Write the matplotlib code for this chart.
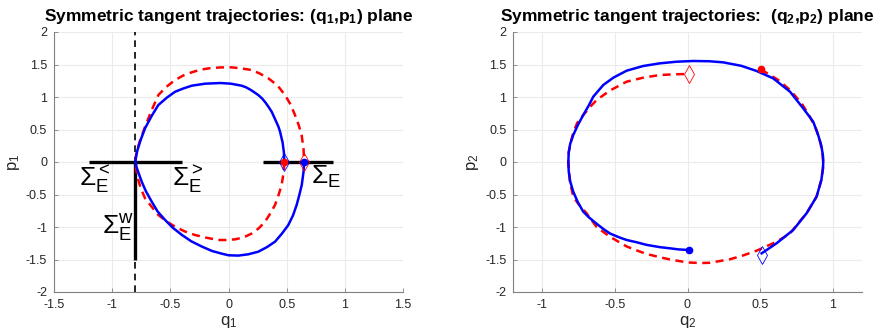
import matplotlib
matplotlib.use("Agg")
import matplotlib.pyplot as plt

plt.rcParams['font.family'] = ['Liberation Sans', 'DejaVu Sans']
plt.rcParams['mathtext.fontset'] = 'custom'
plt.rcParams['mathtext.rm'] = 'Liberation Sans'
plt.rcParams['mathtext.it'] = 'Liberation Sans:italic'
plt.rcParams['mathtext.bf'] = 'Liberation Sans:bold'
plt.rcParams['axes.unicode_minus'] = False

# ---------------- data: (q1,p1) plane ----------------
q1_blue = [0.65, 0.645, 0.63, 0.61, 0.586, 0.555, 0.514, 0.46, 0.40, 0.33, 0.256, 0.17, 0.084, 0.0,
           -0.058, -0.14, -0.23, -0.32, -0.402, -0.48, -0.546, -0.61, -0.66, -0.71, -0.746, -0.775,
           -0.792, -0.8, -0.795, -0.783, -0.755, -0.717, -0.66, -0.603, -0.53, -0.46, -0.39, -0.316,
           -0.2, -0.07, 0.02, 0.113, 0.15, 0.19, 0.22, 0.256, 0.29, 0.32, 0.345, 0.371, 0.39, 0.41,
           0.43, 0.443, 0.465, 0.476, 0.48]
p1_blue = [0.0, -0.15, -0.35, -0.5, -0.66, -0.82, -0.97, -1.1, -1.226, -1.31, -1.38, -1.42, -1.44, -1.435,
           -1.41, -1.37, -1.30, -1.22, -1.12, -1.01, -0.89, -0.76, -0.61, -0.45, -0.303, -0.16,
           -0.07, 0.0, 0.08, 0.18, 0.34, 0.52, 0.71, 0.877, 0.99, 1.08, 1.13, 1.174,
           1.205, 1.215, 1.205, 1.174, 1.15, 1.11, 1.075, 1.03, 0.975, 0.91, 0.845, 0.774, 0.70, 0.62,
           0.54, 0.467, 0.3, 0.15, 0.0]

q1_red = [0.48, 0.475, 0.457, 0.43, 0.40, 0.36, 0.314, 0.26, 0.2, 0.13, 0.056, -0.02, -0.088, -0.19,
          -0.288, -0.38, -0.46, -0.535, -0.603, -0.66, -0.717, -0.755, -0.78, -0.795, -0.8, -0.795,
          -0.78, -0.755, -0.717, -0.66, -0.603, -0.535, -0.46, -0.39, -0.316, -0.24, -0.173, -0.07,
          0.027, 0.11, 0.2, 0.27, 0.342, 0.42, 0.486, 0.535, 0.572, 0.605, 0.629, 0.645, 0.65]
p1_red = [0.0, -0.15, -0.35, -0.51, -0.66, -0.79, -0.918, -1.02, -1.10, -1.16, -1.19, -1.2, -1.2, -1.165,
          -1.123, -1.065, -0.995, -0.91, -0.815, -0.69, -0.56, -0.4, -0.25, -0.1, 0.0, 0.1,
          0.22, 0.36, 0.543, 0.80, 1.03, 1.155, 1.26, 1.33, 1.38, 1.42, 1.44, 1.455,
          1.456, 1.44, 1.415, 1.36, 1.288, 1.18, 1.03, 0.88, 0.72, 0.56, 0.41, 0.2, 0.0]

# ---------------- data: (q2,p2) plane ----------------
q2_blue = [0.012, -0.06, -0.121, -0.19, -0.282, -0.35, -0.419, -0.47, -0.534, -0.58, -0.626, -0.68,
           -0.718, -0.755, -0.787, -0.808, -0.818, -0.821, -0.818, -0.808, -0.787, -0.755, -0.718,
           -0.68, -0.649, -0.58, -0.511, -0.419, -0.305, -0.19, -0.075, 0.04, 0.15, 0.246, 0.37,
           0.476, 0.59, 0.706, 0.797, 0.866, 0.9, 0.922, 0.933, 0.935, 0.933, 0.922, 0.889, 0.82,
           0.728, 0.614, 0.511]
p2_blue = [-1.354, -1.345, -1.328, -1.31, -1.275, -1.235, -1.2, -1.16, -1.10, -1.03, -0.95, -0.85,
           -0.764, -0.62, -0.457, -0.3, -0.15, 0.0, 0.15, 0.28, 0.415, 0.57, 0.723,
           0.87, 1.005, 1.185, 1.297, 1.405, 1.477, 1.518, 1.543, 1.554, 1.55, 1.533, 1.48,
           1.4, 1.287, 1.082, 0.826, 0.62, 0.415, 0.25, 0.1, 0.0, -0.1, -0.277, -0.534, -0.79,
           -1.046, -1.25, -1.405]

q2_red = [0.506, 0.56, 0.625, 0.706, 0.786, 0.843, 0.889, 0.915, 0.93, 0.935, 0.933, 0.922, 0.889,
          0.82, 0.76, 0.706, 0.614, 0.476, 0.38, 0.291, 0.155, 0.09, 0.0, -0.121, -0.2, -0.282,
          -0.35, -0.419, -0.534, -0.626, -0.695, -0.75, -0.787, -0.81, -0.821, -0.818, -0.81,
          -0.787, -0.76, -0.718, -0.67, -0.626, -0.534, -0.419, -0.3, -0.19, -0.08, 0.012]
p2_red = [1.426, 1.35, 1.262, 1.108, 0.903, 0.697, 0.492, 0.3, 0.12, 0.0, -0.1, -0.277, -0.534,
          -0.79, -0.95, -1.1, -1.226, -1.365, -1.44, -1.497, -1.55, -1.555, -1.545, -1.50, -1.46, -1.415,
          -1.36, -1.30, -1.15, -1.0, -0.79, -0.65, -0.534, -0.3, 0.0, 0.15, 0.25,
          0.45, 0.6, 0.723, 0.85, 0.954, 1.10, 1.236, 1.3, 1.338, 1.35, 1.354]

# section segments in (q1,p1) plane
sigma_lt_q = [-1.2, -0.8]
sigma_gt_q = [-0.8, -0.4]
sigma_e_q = [0.3, 0.9]
sigma_w_p = [0.0, -1.5]
q_wall = -0.8

BLUE = '#0000ff'
RED = '#ff0000'
GRID = '#ebebeb'
AXC = '#262626'

fig = plt.figure(figsize=(8.75, 3.35), dpi=100)
ax1 = fig.add_axes([54/875, 1-292/335, 349/875, 260/335])
ax2 = fig.add_axes([513.3/875, 1-292/335, 348.4/875, 260/335])


def style(ax):
    ax.grid(True, color=GRID, lw=0.8)
    ax.set_axisbelow(True)
    for s in ['top', 'right']:
        ax.spines[s].set_visible(False)
    for s in ['left', 'bottom']:
        ax.spines[s].set_color('#808080')
        ax.spines[s].set_linewidth(0.8)
    ax.tick_params(direction='in', length=3, width=0.6, colors='#808080',
                   labelcolor=AXC, labelsize=9)
    ax.tick_params(axis='x', pad=5)
    ax.tick_params(axis='y', pad=5)
    ax.set_ylim(-2, 2)
    ax.set_yticks([-2, -1.5, -1, -0.5, 0, 0.5, 1, 1.5, 2])
    ax.set_yticklabels(['-2', '-1.5', '-1', '-0.5', '0', '0.5', '1', '1.5', '2'])


lw = 1.8
dash = (3.2, 2.2)

# ---- left panel ----
style(ax1)
ax1.set_xlim(-1.5, 1.5)
ax1.set_xticks([-1.5, -1, -0.5, 0, 0.5, 1, 1.5])
ax1.set_xticklabels(['-1.5', '-1', '-0.5', '0', '0.5', '1', '1.5'])
ax1.plot([q_wall, q_wall], [-2, 2], color='k', lw=1.2, dashes=(4, 3), zorder=2)
ax1.plot(sigma_lt_q, [0, 0], color='k', lw=2.4, solid_capstyle='butt', zorder=3)
ax1.plot(sigma_gt_q, [0, 0], color='k', lw=2.4, solid_capstyle='butt', zorder=3)
ax1.plot(sigma_e_q, [0, 0], color='k', lw=2.4, solid_capstyle='butt', zorder=3)
ax1.plot([q_wall, q_wall], sigma_w_p, color='k', lw=2.4, solid_capstyle='butt', zorder=3)
ax1.plot(q1_red, p1_red, color=RED, lw=lw, dashes=dash, zorder=4)
ax1.plot(q1_blue, p1_blue, color=BLUE, lw=lw, zorder=5)
ms_d = 9
ax1.plot(q1_blue[-1], p1_blue[-1], marker='d', ms=ms_d, mfc='none', mec=BLUE, mew=0.6, zorder=6)
ax1.plot(q1_red[-1], p1_red[-1], marker='d', ms=ms_d, mfc='none', mec=RED, mew=0.6, zorder=6)
ax1.plot(q1_blue[0], p1_blue[0], marker='o', ms=4.5, color=BLUE, zorder=7)
ax1.plot(q1_red[0], p1_red[0], marker='o', ms=4.5, color=RED, zorder=7)

fs = 19
ax1.text(-1.285, -0.354, r'$\Sigma_{\rm E}^{<}$', fontsize=fs, ha='left', va='baseline')
ax1.text(-0.488, -0.354, r'$\Sigma_{\rm E}^{>}$', fontsize=fs, ha='left', va='baseline')
ax1.text(0.707, -0.33, r'$\Sigma_{\rm E}$', fontsize=fs, ha='left', va='baseline')
ax1.text(-1.09, -1.097, r'$\Sigma_{\rm E}^{\rm w}$', fontsize=fs, ha='left', va='baseline')

ax1.set_xlabel(r'$\mathrm{q_1}$', fontsize=12, color=AXC, labelpad=2)
ax1.set_ylabel(r'$\mathrm{p_1}$', fontsize=12, color=AXC, labelpad=3)
ax1.set_title(r'Symmetric tangent trajectories: $\mathbf{(q_1{,}p_1)}$ plane',
              fontsize=12.5, fontweight='bold', pad=8)

# ---- right panel ----
style(ax2)
ax2.set_xlim(-1.2, 1.2)
ax2.set_xticks([-1, -0.5, 0, 0.5, 1])
ax2.set_xticklabels(['-1', '-0.5', '0', '0.5', '1'])
ax2.plot(q2_red, p2_red, color=RED, lw=lw, dashes=dash, zorder=4)
ax2.plot(q2_blue, p2_blue, color=BLUE, lw=lw, zorder=5)
ax2.plot(q2_blue[-1], p2_blue[-1] - 0.02, marker='d', ms=ms_d, mfc='none', mec=BLUE, mew=0.6, zorder=6)
ax2.plot(q2_red[-1], p2_red[-1], marker='d', ms=ms_d, mfc='none', mec=RED, mew=0.6, zorder=6)
ax2.plot(q2_blue[0], p2_blue[0], marker='o', ms=4.5, color=BLUE, zorder=7)
ax2.plot(q2_red[0], p2_red[0], marker='o', ms=4.5, color=RED, zorder=7)

ax2.set_xlabel(r'$\mathrm{q_2}$', fontsize=12, color=AXC, labelpad=2)
ax2.set_ylabel(r'$\mathrm{p_2}$', fontsize=12, color=AXC, labelpad=3)
ax2.set_title(r'Symmetric tangent trajectories:  $\mathbf{(q_2{,}p_2)}$ plane',
              fontsize=12.5, fontweight='bold', pad=8)

fig.savefig('out.png', dpi=100, facecolor='white')
